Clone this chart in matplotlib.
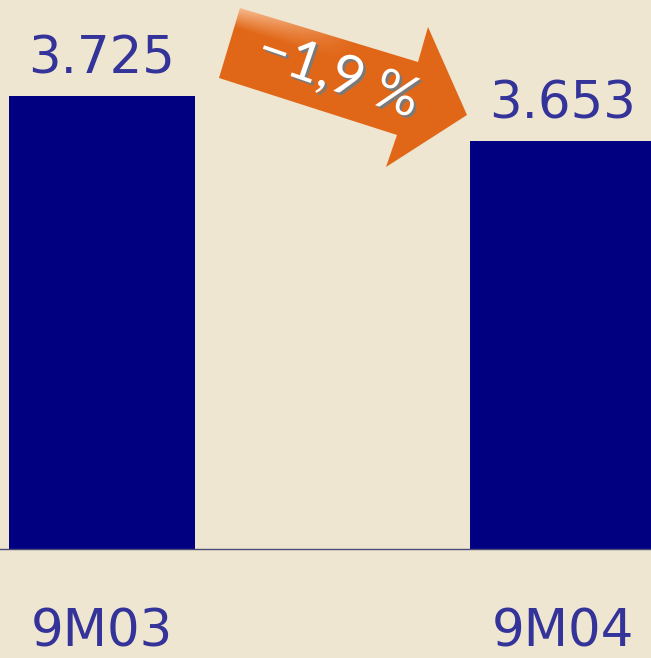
import numpy as np
import matplotlib
matplotlib.use("Agg")
import matplotlib.pyplot as plt
from matplotlib.patches import Polygon
import matplotlib.patheffects as pe

# data
categories = ["9M03", "9M04"]
values = [3.725, 3.653]
change_label = "\u22121,9 %"

bg = "#EEE6D0"
bar_color = "#000080"
text_color = "#333399"
base = 3.0

fig = plt.figure(figsize=(6.51, 6.58), dpi=100)
fig.patch.set_facecolor(bg)

ax = fig.add_axes([0, 0, 1, 1])
ax.set_facecolor(bg)
x = np.arange(len(categories))
ax.bar(x, [v - base for v in values], bottom=base, width=0.4035, color=bar_color, zorder=2)
ax.set_xlim(-0.2213, 1.1909)
ax.set_ylim(2.8256, 3.8784)
ax.axhline(base, color="#4a4a78", lw=1, zorder=3)
ax.axis("off")

for i, v in enumerate(values):
    ax.annotate(f"{v:.3f}", (x[i], v), xytext=(0, 16), textcoords="offset points",
                ha="center", va="baseline", fontsize=37, color=text_color)
    ax.annotate(categories[i], (x[i], base), xytext=(0, -70), textcoords="offset points",
                ha="center", va="baseline", fontsize=37, color=text_color)

# decorative arrow, drawn in pixel coordinates
ov = fig.add_axes([0, 0, 1, 1])
ov.set_xlim(0, 651)
ov.set_ylim(658, 0)
ov.axis("off")
ov.patch.set_alpha(0)

pts = [(240, 8), (418, 62), (428, 27), (467, 115), (386, 167), (397, 135), (219, 78)]
poly = Polygon(pts, closed=True, facecolor="none", edgecolor="none")
ov.add_patch(poly)

ang = np.deg2rad(17.5)
xs, ys = np.meshgrid(np.linspace(210, 475, 300), np.linspace(0, 175, 200))
u = (xs - 240) * np.cos(ang) + (ys - 8) * np.sin(ang)
s = -(xs - 240) * np.sin(ang) + (ys - 8) * np.cos(ang)
orange = np.array([225, 103, 24]) / 255
peach = np.array([247, 185, 140]) / 255
dark = np.array([85, 45, 20]) / 255
w1 = np.clip(1 - s / 20, 0, 1) * np.clip(1 - u / 120, 0, 1)
w2 = np.clip((s - 105) / 60, 0, 1)
img = orange[None, None, :] * np.ones(xs.shape)[..., None]
img = img * (1 - w1[..., None]) + peach * w1[..., None]
img = img * (1 - w2[..., None]) + dark * w2[..., None]
im = ov.imshow(img, extent=(210, 475, 175, 0), origin="upper", zorder=4)
im.set_clip_path(poly)

ov.text(338, 76, change_label, rotation=-19, rotation_mode="anchor",
        ha="center", va="center", fontsize=40, color="white",
        family=["Lato", "DejaVu Sans"], zorder=5,
        path_effects=[pe.withSimplePatchShadow(offset=(1.8, -1.8), shadow_rgbFace="#7a7a7a", alpha=1)])

fig.savefig("out.png", dpi=100, facecolor=bg)
